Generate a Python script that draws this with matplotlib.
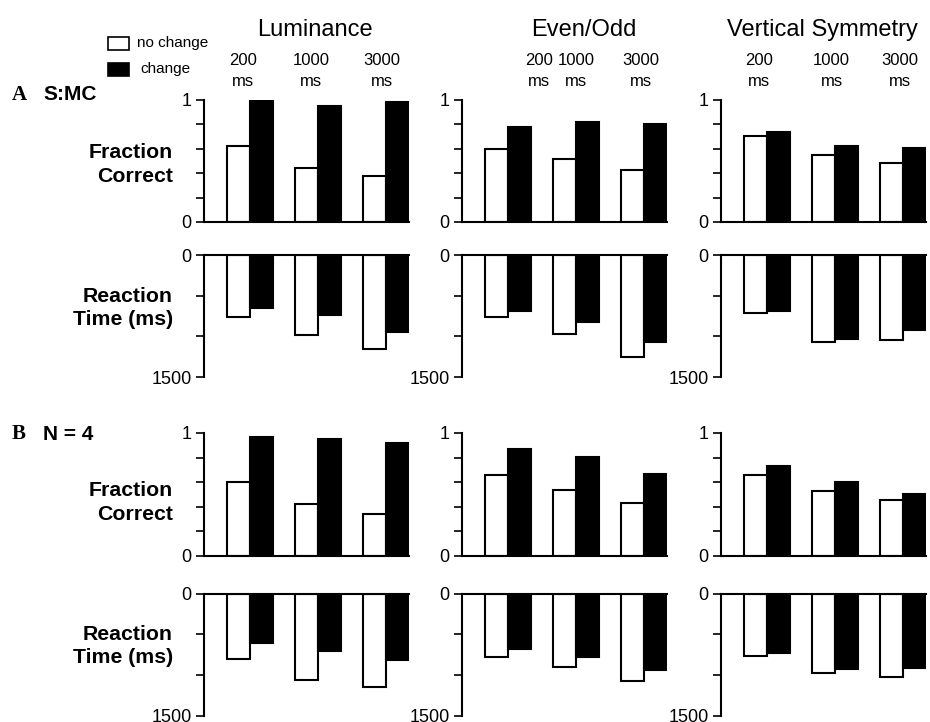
import matplotlib
matplotlib.use("Agg")
import matplotlib.pyplot as plt
import matplotlib.transforms as mtransforms
from matplotlib.patches import Rectangle
import numpy as np

plt.rcParams['font.family'] = ['Liberation Sans', 'DejaVu Sans']

# ---------------- data ----------------
tasks = ["Luminance", "Even/Odd", "Vertical Symmetry"]
durations = ["200\nms", "1000\nms", "3000\nms"]
legend_labels = ["no change", "change"]

# Row A (S:MC) fraction correct
fcA_lum_nc = [0.625, 0.445, 0.38]
fcA_lum_c = [0.99, 0.95, 0.98]
fcA_eo_nc = [0.60, 0.52, 0.43]
fcA_eo_c = [0.776, 0.817, 0.80]
fcA_vs_nc = [0.707, 0.55, 0.48]
fcA_vs_c = [0.74, 0.625, 0.61]

# Row A reaction time (ms)
rtA_lum_nc = [758, 980, 1160]
rtA_lum_c = [652, 734, 947]
rtA_eo_nc = [757, 973, 1251]
rtA_eo_c = [687, 826, 1071]
rtA_vs_nc = [707, 1067, 1051]
rtA_vs_c = [683, 1030, 928]

# Row B (N = 4) fraction correct
fcB_lum_nc = [0.605, 0.42, 0.338]
fcB_lum_c = [0.968, 0.952, 0.919]
fcB_eo_nc = [0.656, 0.54, 0.43]
fcB_eo_c = [0.87, 0.806, 0.666]
fcB_vs_nc = [0.66, 0.527, 0.456]
fcB_vs_c = [0.732, 0.60, 0.505]

# Row B reaction time (ms)
rtB_lum_nc = [810, 1069, 1151]
rtB_lum_c = [613, 707, 814]
rtB_eo_nc = [776, 907, 1071]
rtB_eo_c = [682, 780, 936]
rtB_vs_nc = [773, 981, 1022]
rtB_vs_c = [728, 928, 916]

rows = [
    ("fc", [(fcA_lum_nc, fcA_lum_c), (fcA_eo_nc, fcA_eo_c), (fcA_vs_nc, fcA_vs_c)]),
    ("rt", [(rtA_lum_nc, rtA_lum_c), (rtA_eo_nc, rtA_eo_c), (rtA_vs_nc, rtA_vs_c)]),
    ("fc", [(fcB_lum_nc, fcB_lum_c), (fcB_eo_nc, fcB_eo_c), (fcB_vs_nc, fcB_vs_c)]),
    ("rt", [(rtB_lum_nc, rtB_lum_c), (rtB_eo_nc, rtB_eo_c), (rtB_vs_nc, rtB_vs_c)]),
]

# ---------------- layout ----------------
W, H = 930, 722
fig = plt.figure(figsize=(W / 100, H / 100), dpi=100)

def fx(px):
    return px / W

def fy(py):
    return 1 - py / H

col_left = [204, 462, 721]
col_width = 205
row_span = [(100, 222), (255, 377), (433, 556), (593.5, 715.5)]

bw = 0.34
xl = (-0.68, 2.34)
LW = 1.5

# label offsets (in group units) for the duration labels
dur_offsets = [[-0.1, -0.1, -0.06], [0.45, 0.0, -0.04], [-0.12, -0.05, -0.05]]
title_centres = [0.95, 1.11, 0.81]

axes = {}
for r, (kind, panels) in enumerate(rows):
    top, bot = row_span[r]
    for c, (nc, ch) in enumerate(panels):
        ax = fig.add_axes([fx(col_left[c]), fy(bot), col_width / W, (bot - top) / H])
        axes[(r, c)] = ax
        x = np.arange(len(durations))
        ax.bar(x - bw, nc, width=bw, align='edge', color='white',
               edgecolor='black', linewidth=LW, zorder=2)
        ax.bar(x, ch, width=bw, align='edge', color='black',
               edgecolor='black', linewidth=LW, zorder=2)
        ax.set_xlim(*xl)
        ax.set_xticks([])
        ax.spines['right'].set_visible(False)
        ax.spines['left'].set_linewidth(LW)
        if kind == "fc":
            ax.set_ylim(0, 1)
            ax.spines['top'].set_visible(False)
            ax.spines['bottom'].set_linewidth(LW)
            ax.set_yticks([0, 0.2, 0.4, 0.6, 0.8, 1.0])
            ax.set_yticklabels(["0", "", "", "", "", "1"])
        else:
            ax.set_ylim(1500, 0)
            ax.spines['bottom'].set_visible(False)
            ax.spines['top'].set_linewidth(LW)
            ax.set_yticks([0, 500, 1000, 1500])
            ax.set_yticklabels(["0", "", "", "1500"])
        for sp in ax.spines.values():
            sp.set_zorder(3)
        ax.tick_params(axis='y', direction='out', length=6, width=1.2,
                       labelsize=13, pad=3)
        ax.patch.set_visible(False)

# titles and duration labels (above top row)
for c, task in enumerate(tasks):
    ax = axes[(0, c)]
    trans = mtransforms.blended_transform_factory(ax.transData, fig.transFigure)
    ax.text(title_centres[c], fy(30), task, transform=trans, ha='center',
            va='center', fontsize=17)
    for i, d in enumerate(durations):
        ax.text(i + dur_offsets[c][i], fy(71), d, transform=trans,
                ha='center', va='center', fontsize=12, linespacing=1.5)

# y labels
ylab_pos = [(164.5, "Fraction\nCorrect"), (308, "Reaction\nTime (ms)"),
            (502.5, "Fraction\nCorrect"), (646, "Reaction\nTime (ms)")]
for py, txt in ylab_pos:
    fig.text(fx(173), fy(py), txt, ha='right', va='center', fontsize=15.3,
             fontweight='bold', linespacing=1.32)

# row labels
fig.text(fx(12), fy(95), "A", fontsize=15, fontweight='bold',
         family='Liberation Serif', ha='left', va='center')
fig.text(fx(43), fy(95), "S:MC", fontsize=15, fontweight='bold',
         ha='left', va='center')
fig.text(fx(12), fy(434), "B", fontsize=15, fontweight='bold',
         family='Liberation Serif', ha='left', va='center')
fig.text(fx(43), fy(434), "N = 4", fontsize=15, fontweight='bold',
         ha='left', va='center')

# legend
for i, (lab, fc) in enumerate(zip(legend_labels, ["white", "black"])):
    yc = [43.5, 69.5][i]
    fig.add_artist(Rectangle((fx(108), fy(yc + 6.5)), 21 / W, 13 / H,
                             facecolor=fc, edgecolor='black', linewidth=1.2,
                             transform=fig.transFigure))
    fig.text(fx([137, 140][i]), fy(yc), lab, fontsize=11, ha='left', va='center')

fig.savefig("out.png", dpi=100)
